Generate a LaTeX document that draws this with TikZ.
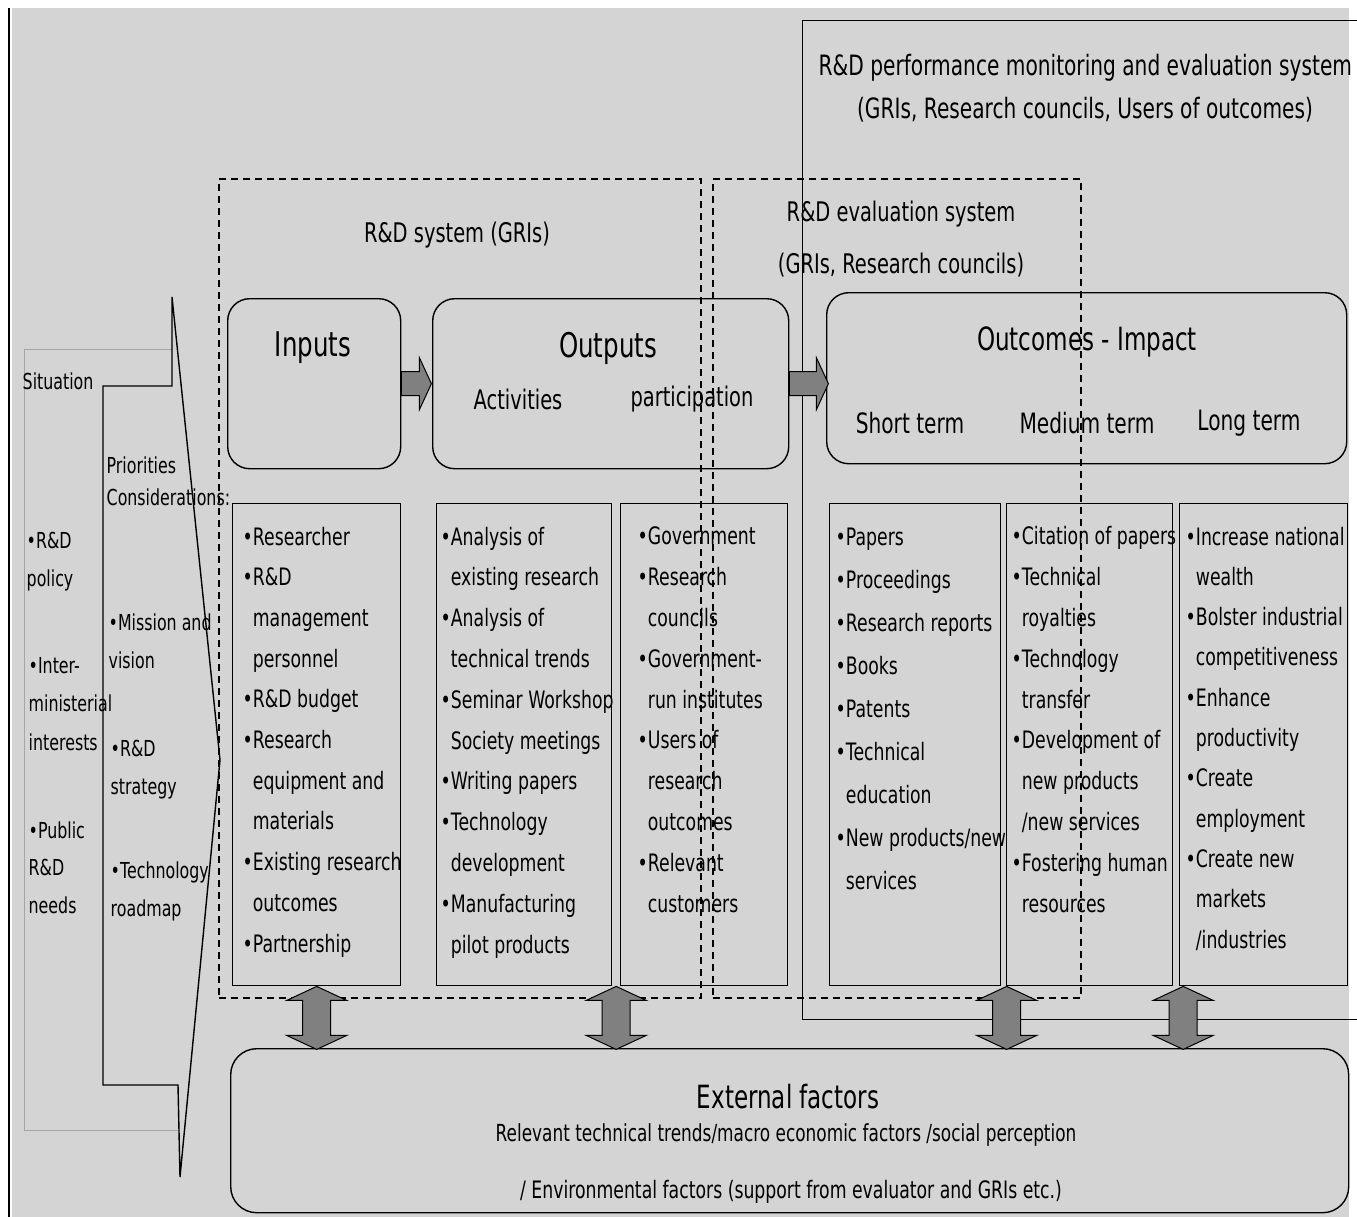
\documentclass[tikz,border=0pt]{standalone}
\usepackage{fontspec}
\setmainfont{DejaVu Sans}[FakeStretch=0.72]
\usetikzlibrary{calc}
\definecolor{bg}{gray}{0.83}
\definecolor{arr}{gray}{0.50}
\newcommand\fs[2]{\fontsize{#1}{#2}\selectfont}
\newcommand\ind{\phantom{•}}
\begin{document}
\begin{tikzpicture}[x=1pt,y=-1pt,line width=1.4pt,
  listbox/.style={draw,rectangle,inner sep=0pt,minimum width=#1,minimum height=482,anchor=north west},
  rbox/.style={draw,rounded corners=22pt,inner sep=0pt,anchor=north west},
  dbox/.style={draw,rectangle,line width=2.2pt,dash pattern=on 7pt off 5pt,inner sep=0pt,anchor=north west},
  lst/.style={inner sep=0pt,align=left,anchor=base west,font=\fs{24}{#1}},
  sml/.style={inner sep=0pt,align=left,anchor=base west,font=\fs{22}{#1}},
  ttl/.style={inner sep=0pt,font=\fs{#1}{#1}},
  barrow/.style={fill=arr,draw=black,line width=1pt},
  vbi/.pic={\draw[barrow] (0,0) -- (30,14) -- (14,14) -- (14,49) -- (30,49) -- (0,63) -- (-30,49) -- (-14,49) -- (-14,14) -- (-30,14) -- cycle;},
  harr/.pic={\draw[barrow] (0,-12) -- ({#1-12},-12) -- ({#1-12},-26) -- (#1,0) -- ({#1-12},26) -- ({#1-12},12) -- (0,12) -- cycle;}
]
\useasboundingbox (0,0) rectangle (1357,1217);
\clip (0,0) rectangle (1357,1217);
\fill[bg] (12,8) rectangle (1349,1217);
\draw[line width=2.5pt] (9,8) -- (9,1217);

% performance monitoring frame
\node[draw,rectangle,inner sep=0pt,minimum width=620,minimum height=999,anchor=north west] (pm) at (802,20) {};
\node[ttl=28,anchor=west] (pmt1) at (818,68) {R\&D performance monitoring and evaluation system};
\node[ttl=28] (pmt2) at (1085,110) {(GRIs, Research councils, Users of outcomes)};

% situation / priorities
\draw[gray!55!bg,line width=1pt] (172,349) -- (24,349) -- (24,1130) -- (178,1130);
\node[sml=30,anchor=west] (sit) at (22,381) {Situation};
\draw (103,386) -- (172,386) -- (172,297) -- (220,760) -- (180,1177) -- (178,1085) -- (103,1085) -- cycle;
\node[sml=38] (s1) at (26,586) {•R\&D\\policy};
\node[sml=38.5] (s2) at (28,750) {•Inter-\\ministerial\\interests};
\node[sml=37.5] (s3) at (28,913) {•Public\\R\&D\\needs};
\node[sml=32] (p0) at (106,505) {Priorities\\Considerations:};
\node[sml=38] (p1) at (108,668) {•Mission and\\vision};
\node[sml=38] (p2) at (110,794) {•R\&D\\strategy};
\node[sml=38] (p3) at (110,916) {•Technology\\roadmap};

% dashed system boxes
\node[dbox,minimum width=482,minimum height=819] (rds) at (218,178) {};
\node[dbox,minimum width=368,minimum height=819] (evs) at (712,178) {};
\node[ttl=27] (rdst) at (457,235) {R\&D system (GRIs)};
\node[ttl=27] (evst1) at (901,214) {R\&D evaluation system};
\node[ttl=27] (evst2) at (901,265) {(GRIs, Research councils)};

% main boxes
\node[rbox,minimum width=173,minimum height=170] (inp) at (227,298) {};
\node[rbox,minimum width=356,minimum height=170] (outp) at (432,298) {};
\node[rbox,minimum width=520,minimum height=171] (outc) at (826,292) {};
\node[ttl=34] (inpt) at (313,348) {Inputs};
\node[ttl=34] (outpt) at (608,348) {Outputs};
\node[ttl=27] (actt) at (518,399) {Activities};
\node[ttl=27] (part) at (692,399) {participation};
\node[ttl=32] (outct) at (1087,342) {Outcomes - Impact};
\node[ttl=28] (st) at (910,423) {Short term};
\node[ttl=28] (mt) at (1087,423) {Medium term};
\node[ttl=28] (lt) at (1249,423) {Long term};
\pic at (inp.east) {harr=30};
\pic at (outp.east) {harr=39};

% list boxes
\node[listbox=168] (inlist) at (232,503) {};
\node[listbox=175] (actlist) at (436,503) {};
\node[listbox=167] (parlist) at (620,503) {};
\node[listbox=171] (shlist) at (829,503) {};
\node[listbox=166] (mdlist) at (1006,503) {};
\node[listbox=168] (lglist) at (1179,503) {};

\node[lst=40.7] (intx) at (242,952) {•Researcher\\•R\&D\\\ind management\\\ind personnel\\•R\&D budget\\•Research\\\ind equipment and\\\ind materials\\•Existing research\\\ind outcomes\\•Partnership};
\node[lst=40.8] (acttx) at (440,953) {•Analysis of\\\ind existing research\\•Analysis of\\\ind technical trends\\•Seminar Workshop\\\ind Society meetings\\•Writing papers\\•Technology\\\ind development\\•Manufacturing\\\ind pilot products};
\node[lst=40.8] (partx) at (637,912) {•Government\\•Research\\\ind councils\\•Government-\\\ind run institutes\\•Users of\\\ind research\\\ind outcomes\\•Relevant\\\ind customers};
\node[lst=43] (shtx) at (835,889) {•Papers\\•Proceedings\\•Research reports\\•Books\\•Patents\\•Technical\\\ind education\\•New products/new\\\ind services};
\node[lst=40.8] (mdtx) at (1011,912) {•Citation of papers\\•Technical\\\ind royalties\\•Technology\\\ind transfer\\•Development of\\\ind new products\\\ind /new services\\•Fostering human\\\ind resources};
\node[lst=40.3] (lgtx) at (1185,948) {•Increase national\\\ind wealth\\•Bolster industrial\\\ind competitiveness\\•Enhance\\\ind productivity\\•Create\\\ind employment\\•Create new\\\ind markets\\\ind /industries};

% external factors
\node[rbox,rounded corners=26pt,minimum width=1118,minimum height=164] (ext) at (230,1048) {};
\node[ttl=32] (extt) at (788,1097) {External factors};
\node[ttl=23.5] (ext1) at (786,1135) {Relevant technical trends/macro economic factors /social perception};
\node[ttl=24] (ext2) at (791,1192) {/ Environmental factors (support from evaluator and GRIs etc.)};

% vertical double arrows
\pic at (inlist.south) {vbi};
\pic at ($(actlist.south east)!0.5!(parlist.south west)$) {vbi};
\pic at ($(shlist.south east)!0.5!(mdlist.south west)+(3,0)$) {vbi};
\pic at ($(mdlist.south east)!0.5!(lglist.south west)+(7,0)$) {vbi};
\end{tikzpicture}
\end{document}
